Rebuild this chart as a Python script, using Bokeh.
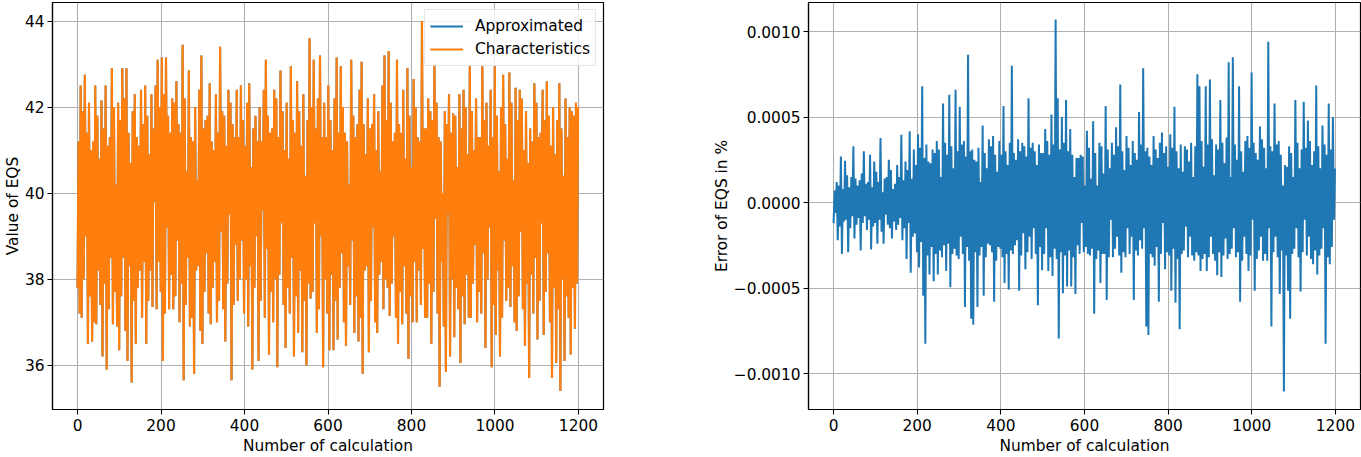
import numpy as np
from bokeh.plotting import figure
from bokeh.layouts import row
from bokeh.models import Range1d, FixedTicker, CustomJSTickFormatter, Legend, LegendItem
from bokeh.embed import file_html
from bokeh.resources import INLINE

# Characteristics (value of EQS), sampled about every 2.5 calculations
characteristics = [
    37.8, 41.2, 37.2, 42.5, 37.1, 41.9, 38.0, 42.75, 39.0, 41.4, 36.5, 42.1, 37.6, 41.0, 36.55, 41.2, 37.0, 42.5, 36.95, 41.8,
    38.2, 40.8, 37.4, 42.15, 36.2, 41.5, 37.9, 42.5, 35.9, 41.1, 37.3, 41.3, 38.5, 42.9, 36.95, 42.0, 37.7, 40.2, 36.9, 42.1,
    36.35, 41.7, 37.6, 42.9, 38.5, 42.2, 36.8, 42.9, 36.1, 41.4, 38.3, 40.7, 35.6, 41.9, 37.5, 42.3, 36.5, 41.3, 37.8, 41.1,
    38.2, 42.4, 37.1, 41.6, 38.4, 42.5, 36.5, 41.8, 37.5, 40.9, 38.2, 42.3, 37.35, 41.5, 39.8, 42.5, 37.3, 43.1, 38.4, 42.0,
    37.7, 43.15, 36.1, 42.3, 37.2, 43.15, 39.2, 41.8, 37.3, 41.4, 38.1, 42.2, 37.3, 42.1, 37.6, 42.6, 38.9, 41.6, 37.0, 41.4,
    37.9, 43.45, 35.65, 42.2, 37.4, 40.5, 38.5, 42.85, 36.9, 41.3, 37.1, 41.2, 35.8, 42.0, 38.2, 40.3, 38.3, 42.4, 36.8, 43.2,
    36.5, 41.5, 37.7, 41.7, 38.6, 41.8, 37.2, 42.55, 36.95, 41.2, 37.8, 41.0, 38.4, 42.3, 37.0, 41.4, 37.5, 43.4, 39.1, 41.9,
    37.3, 41.8, 36.55, 41.1, 37.9, 42.4, 39.5, 42.1, 35.65, 41.6, 37.4, 41.3, 38.8, 42.4, 37.5, 41.3, 38.0, 42.5, 38.9, 41.7,
    37.2, 41.1, 38.0, 42.1, 36.9, 42.55, 38.3, 40.6, 35.9, 41.5, 37.8, 41.8, 39.0, 41.2, 36.1, 42.0, 37.5, 41.2, 39.6, 42.4,
    37.1, 43.1, 38.7, 41.8, 36.25, 41.4, 37.7, 41.5, 37.0, 42.4, 38.0, 42.2, 35.95, 41.3, 38.1, 42.85, 39.3, 41.9, 37.4, 41.0,
    36.4, 42.1, 37.8, 40.8, 37.2, 42.95, 38.5, 41.7, 36.2, 41.4, 37.6, 42.6, 36.75, 41.9, 38.2, 41.1, 36.3, 42.3, 37.5, 40.4,
    36.0, 41.7, 37.9, 43.6, 37.55, 42.0, 37.7, 43.1, 39.3, 41.5, 36.75, 42.2, 37.3, 43.2, 39.0, 41.3, 35.95, 42.1, 38.0, 41.3,
    37.2, 42.5, 36.35, 41.7, 38.1, 41.0, 36.35, 42.2, 37.5, 43.15, 36.6, 41.4, 37.8, 42.95, 38.6, 42.0, 37.0, 41.4, 36.45, 41.2,
    38.3, 40.2, 37.4, 43.1, 38.9, 41.8, 36.75, 41.3, 37.6, 41.6, 36.55, 42.4, 37.1, 43.05, 35.8, 41.6, 38.2, 40.9, 38.3, 42.2,
    36.3, 41.5, 37.5, 41.6, 39.2, 42.3, 37.0, 41.0, 36.75, 41.9, 38.1, 40.5, 38.4, 42.5, 37.3, 43.2, 38.0, 41.7, 37.8, 43.3,
    37.15, 42.1, 37.9, 41.2, 39.0, 41.4, 37.1, 43.1, 36.5, 41.6, 37.7, 41.4, 36.95, 42.4, 38.3, 40.8, 37.2, 42.9, 36.15, 41.8,
    37.6, 40.6, 37.0, 42.65, 38.4, 42.0, 37.0, 41.3, 38.2, 41.2, 37.4, 44.0, 38.7, 41.5, 37.1, 41.5, 37.1, 42.2, 37.9, 41.9,
    36.5, 41.7, 37.7, 43.0, 39.4, 42.1, 37.2, 41.3, 35.5, 41.2, 38.4, 40.0, 36.9, 41.9, 35.85, 41.6, 39.5, 42.3, 36.2, 41.4,
    38.0, 41.85, 36.65, 41.8, 37.8, 40.6, 37.3, 42.3, 36.05, 41.5, 37.6, 42.4, 36.95, 42.0, 38.1, 40.9, 37.1, 42.95, 37.1, 41.9,
    37.9, 41.0, 38.8, 42.2, 37.0, 41.3, 37.7, 41.3, 37.2, 42.95, 38.6, 41.7, 36.4, 42.1, 38.0, 41.1, 39.2, 42.4, 35.95, 41.3,
    37.4, 42.95, 36.7, 41.8, 38.2, 40.5, 36.2, 42.0, 37.1, 42.75, 38.9, 41.6, 37.5, 40.8, 37.8, 42.8, 37.35, 42.1, 38.3, 40.3,
    37.0, 42.45, 36.8, 41.7, 37.6, 42.4, 39.1, 42.2, 37.3, 41.0, 36.45, 41.9, 37.9, 40.7, 35.7, 41.5, 38.1, 41.2, 37.2, 42.55,
    38.5, 42.1, 36.6, 41.3, 37.5, 41.4, 39.3, 42.4, 36.7, 41.7, 37.7, 42.6, 38.6, 41.8, 37.0, 41.1, 35.7, 42.0, 37.8, 40.9,
    36.05, 41.7, 37.3, 42.55, 35.4, 41.5, 38.0, 40.4, 36.1, 42.2, 37.6, 41.3, 37.1, 42.0, 36.25, 41.9, 37.8, 41.8, 36.85, 42.1,
    37.9, 42.0,
]

# Error of EQS in % (in units of 1e-4 %), same sampling
error_e4 = [
    -1.2, 0.7, -0.6, 1.2, -2.2, 1.0, -1.4, 2.7, -3.0, 0.8, -1.1, 2.45, -1.0, 1.6, -2.9, 0.9, -1.5, 1.5, -0.8, 3.3,
    -2.1, 1.4, -1.3, 1.0, -0.9, 1.3, -2.8, 1.7, -1.2, 3.0, -0.8, 1.1, -1.6, 1.2, -1.0, 2.8, -2.75, 0.9, -1.4, 2.4,
    -1.2, 1.8, -2.4, 1.2, -1.0, 3.77, -1.7, 0.6, -2.4, 1.4, -0.7, 1.5, -1.3, 2.5, -1.5, 1.9, -2.1, 0.8, -1.1, 1.1,
    -1.6, 2.2, -1.3, 1.5, -0.9, 3.97, -2.2, 1.3, -1.5, 2.4, -3.3, 1.9, -1.2, 4.17, -4.1, 1.4, -2.0, 3.1, -1.8, 2.2,
    -2.9, 4.0, -3.8, 3.2, -2.3, 6.8, -5.45, 2.6, -8.25, 3.4, -3.1, 2.4, -4.2, 2.3, -2.6, 3.1, -4.6, 2.9, -3.0, 3.6,
    -4.2, 3.1, -2.8, 1.5, -3.2, 5.8, -2.5, 3.5, -4.0, 2.8, -2.4, 6.3, -4.95, 3.3, -3.0, 2.0, -2.7, 6.6, -3.1, 3.0,
    -3.3, 5.6, -2.0, 3.4, -3.0, 3.6, -6.1, 2.7, -2.6, 8.65, -3.4, 3.0, -6.8, 3.1, -7.15, 2.5, -2.9, 2.4, -6.1, 3.2,
    -3.1, 1.2, -2.6, 4.5, -5.45, 2.9, -3.2, 2.0, -2.4, 3.7, -2.5, 3.3, -2.9, 3.9, -5.8, 2.8, -3.4, 1.8, -2.6, 3.6,
    -2.7, 2.8, -3.2, 5.65, -4.7, 3.0, -3.0, 2.2, -5.1, 3.5, -2.8, 8.0, -3.0, 2.9, -2.5, 2.5, -2.2, 3.7, -5.15, 3.0,
    -3.1, 3.5, -1.8, 3.3, -3.9, 2.7, -2.9, 6.1, -2.0, 3.2, -3.3, 3.5, -1.5, 3.0, -3.0, 2.2, -6.0, 3.4, -2.6, 2.9,
    -3.95, 2.9, -3.0, 4.3, -1.5, 3.6, -4.0, 2.8, -3.2, 5.15, -4.3, 3.4, -2.7, 10.7, -3.3, 6.1, -7.95, 3.1, -2.9, 5.0,
    -5.3, 3.5, -3.1, 6.0, -4.9, 3.0, -2.8, 4.3, -4.9, 2.8, -3.2, 1.5, -5.35, 2.6, -2.5, 2.6, -3.0, 2.8, -1.2, 2.7,
    -2.9, 1.0, -2.6, 4.2, -3.0, 3.2, -3.1, 1.4, -2.7, 4.75, -6.5, 2.9, -3.3, 1.0, -2.8, 3.5, -4.7, 3.3, -3.0, 1.7,
    -3.0, 5.65, -5.7, 3.1, -3.2, 2.0, -1.0, 3.5, -3.2, 2.8, -2.7, 4.4, -2.0, 3.3, -3.1, 6.9, -4.1, 3.0, -2.9, 1.9,
    -3.2, 3.9, -1.5, 3.2, -3.0, 2.2, -2.0, 3.6, -5.7, 2.9, -2.8, 2.5, -3.1, 5.3, -2.2, 3.4, -2.7, 7.85, -1.5, 3.0,
    -7.25, 3.2, -7.75, 2.7, -3.0, 2.2, -3.2, 3.9, -3.7, 3.1, -2.6, 2.6, -5.8, 3.5, -3.0, 4.1, -1.2, 2.9, -3.9, 3.3,
    -2.9, 2.1, -3.1, 4.0, -5.15, 3.2, -2.7, 5.6, -5.85, 3.0, -3.3, 2.0, -7.4, 3.4, -3.0, 1.8, -2.8, 3.3, -1.4, 3.1,
    -3.2, 2.4, -2.0, 3.5, -3.1, 1.5, -3.4, 3.3, -2.9, 7.5, -3.1, 6.8, -4.0, 3.6, -3.3, 2.1, -3.0, 6.8, -4.0, 3.4,
    -3.2, 7.2, -2.0, 3.7, -3.0, 1.6, -3.4, 3.4, -4.25, 3.1, -2.9, 6.0, -4.35, 3.5, -3.1, 2.3, -2.1, 3.8, -3.3, 8.2,
    -3.0, 1.5, -2.7, 8.5, -1.5, 3.4, -3.2, 2.5, -2.9, 6.8, -5.8, 3.0, -3.4, 1.8, -2.0, 3.6, -3.0, 3.9, -4.0, 3.2,
    -3.1, 7.6, -1.0, 3.5, -5.15, 2.9, -3.3, 2.5, -2.8, 4.45, -2.0, 3.7, -3.4, 3.2, -3.0, 2.0, -3.4, 9.4, -1.5, 3.3,
    -7.25, 3.0, -2.9, 5.8, -2.0, 3.4, -3.2, 3.6, -5.35, 2.8, -2.8, 1.0, -11.05, 2.2, -3.1, 2.1, -5.15, 3.3, -6.8, 2.9,
    -3.0, 1.5, -2.7, 6.0, -1.5, 3.5, -3.2, 2.0, -5.2, 3.1, -2.9, 5.9, -1.0, 3.2, -3.1, 4.8, -2.0, 3.6, -3.3, 2.2,
    -3.6, 3.0, -2.8, 6.85, -4.2, 3.3, -3.1, 2.0, -2.7, 4.5, -1.5, 3.4, -8.25, 2.8, -3.2, 5.8, -3.6, 3.1, -2.6, 5.0,
    -1.0, 2.0,
]

x_ticks = [0, 200, 400, 600, 800, 1000, 1200]
y1_ticks = [36, 38, 40, 42, 44]
y2_ticks = [-0.0010, -0.0005, 0.0, 0.0005, 0.0010]

labels = ["Approximated", "Characteristics"]
BLUE = "#1f77b4"
ORANGE = "#ff7f0e"
FONT = "DejaVu Sans"
FS = "15.4px"

char = np.array(characteristics)
err_pct = np.array(error_e4) * 1e-4
approx = char * (1.0 + err_pct / 100.0)
# calculation number of each sample, spread over calculations 0 .. 1199
x = np.linspace(0, 1199, len(char))


def style(p):
    p.background_fill_color = "white"
    p.border_fill_color = "white"
    p.outline_line_color = "black"
    p.outline_line_width = 1.2
    for ax in (p.xaxis[0], p.yaxis[0]):
        ax.axis_line_color = "black"
        ax.axis_line_width = 1.2
        ax.major_tick_line_color = "black"
        ax.major_tick_line_width = 1.1
        ax.major_tick_in = 0
        ax.major_tick_out = 5
        ax.minor_tick_line_color = None
        ax.major_label_text_font = FONT
        ax.major_label_text_font_size = FS
        ax.major_label_text_color = "black"
        ax.axis_label_text_font = FONT
        ax.axis_label_text_font_size = FS
        ax.axis_label_text_font_style = "normal"
        ax.axis_label_text_color = "black"
        ax.major_label_standoff = 4
        ax.axis_label_standoff = 3
    p.yaxis[0].major_label_standoff = 3
    p.yaxis[0].axis_label_standoff = 0
    for g in (p.xgrid[0], p.ygrid[0]):
        g.grid_line_color = "#b0b0b0"
        g.grid_line_width = 1.1
    p.xaxis.ticker = FixedTicker(ticks=x_ticks)


p1 = figure(width=708, height=457, output_backend="svg", toolbar_location=None,
            x_range=Range1d(-60, 1260), y_range=Range1d(34.97, 44.43),
            min_border_left=51, min_border_right=105, min_border_top=2, min_border_bottom=44)
r_a = p1.line(x, approx, line_color=BLUE, line_width=2.0)
r_c = p1.line(x, char, line_color=ORANGE, line_width=2.2)
style(p1)
p1.yaxis.ticker = FixedTicker(ticks=y1_ticks)
p1.xaxis.axis_label = "Number of calculation"
p1.yaxis.axis_label = "Value of EQS"
legend = Legend(items=[LegendItem(label=labels[0], renderers=[r_a]),
                       LegendItem(label=labels[1], renderers=[r_c])],
                location="top_right")
legend.label_text_font = FONT
legend.label_text_font_size = FS
legend.label_text_color = "black"
legend.glyph_width = 33
legend.glyph_height = 22
legend.label_height = 22
legend.label_standoff = 12
legend.spacing = 1
legend.padding = 5
legend.margin = 7
legend.border_line_color = "#cccccc"
legend.border_line_width = 1
legend.background_fill_alpha = 0.8
p1.add_layout(legend)

p2 = figure(width=653, height=457, output_backend="svg", toolbar_location=None,
            x_range=Range1d(-60, 1260), y_range=Range1d(-0.00121, 0.00117),
            min_border_left=100, min_border_right=1, min_border_top=2, min_border_bottom=44)
p2.line(x, err_pct, line_color=BLUE, line_width=2.0)
style(p2)
p2.yaxis.ticker = FixedTicker(ticks=y2_ticks)
p2.yaxis.formatter = CustomJSTickFormatter(
    code="var v = Math.abs(tick) < 1e-12 ? 0 : tick; return (v < 0 ? '\u2212' : '') + Math.abs(v).toFixed(4);")
p2.xaxis.axis_label = "Number of calculation"
p2.yaxis.axis_label = "Error of EQS in %"

layout = row(p1, p2)
open("out.html", "w").write(file_html(layout, INLINE))
